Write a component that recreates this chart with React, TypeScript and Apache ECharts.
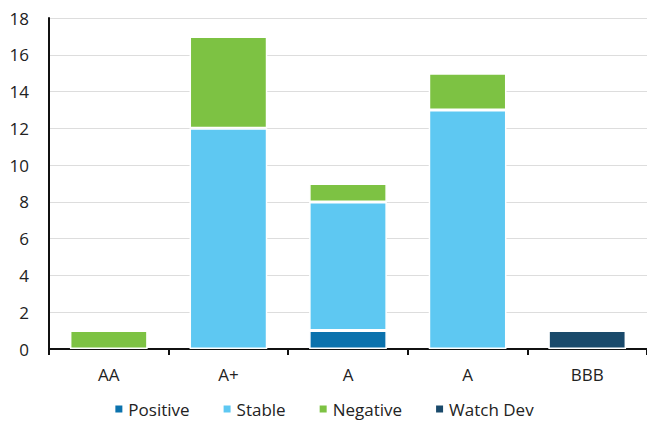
import React, { useEffect, useRef } from "react";
import * as echarts from "echarts";

const categories = ["AA", "A+", "A", "A", "BBB"];
const positive = [0, 0, 1, 0, 0];
const stable = [0, 12, 7, 13, 0];
const negative = [1, 5, 1, 2, 0];
const watchDev = [0, 0, 0, 0, 1];
const yTicks = { min: 0, max: 18, interval: 2 };

const FONT = "'Open Sans', 'Noto Sans', sans-serif";

export default function App() {
  const ref = useRef<HTMLDivElement>(null);
  useEffect(() => {
    if (!ref.current) return;
    const chart = echarts.init(ref.current, undefined, { renderer: "svg" });
    const mk = (name: string, data: number[], color: string) => ({
      name,
      type: "bar",
      stack: "total",
      barWidth: "65%",
      data: data.map((v) => ({ value: v === 0 ? null : v })),
      itemStyle: { color, borderColor: "#ffffff", borderWidth: 1.5 },
    });
    chart.setOption({
      animation: false,
      textStyle: { fontFamily: FONT },
      grid: { left: 49, right: 0, top: 18, bottom: 73, containLabel: false },
      legend: {
        top: 399,
        left: "center",
        padding: 0,
        itemWidth: 9,
        itemHeight: 9,
        itemGap: 32,
        icon: "rect",
        textStyle: { fontFamily: FONT, fontSize: 17, color: "#222", lineHeight: 20 },
        data: ["Positive", "Stable", "Negative", "Watch Dev"],
      },
      xAxis: {
        type: "category",
        data: categories,
        axisLine: { lineStyle: { color: "#111", width: 2 } },
        axisTick: { show: true, alignWithLabel: false, length: 6, lineStyle: { color: "#111", width: 2 } },
        axisLabel: { fontFamily: FONT, fontSize: 17, color: "#222", margin: 17 },
      },
      yAxis: {
        type: "value",
        min: yTicks.min,
        max: yTicks.max,
        interval: yTicks.interval,
        axisLine: { show: true, lineStyle: { color: "#111", width: 2 } },
        axisTick: { show: false },
        axisLabel: { fontFamily: FONT, fontSize: 17, color: "#222", margin: 20 },
        splitLine: { lineStyle: { color: "#dddddd", width: 1 } },
      },
      series: [
        mk("Positive", positive, "#0b72ad"),
        mk("Stable", stable, "#5ec8f2"),
        mk("Negative", negative, "#7dc243"),
        mk("Watch Dev", watchDev, "#1a4a6b"),
      ],
    });
    return () => chart.dispose();
  }, []);
  return <div ref={ref} style={{ width: 647, height: 422, position: "absolute", left: 0, top: 0 }} />;
}
